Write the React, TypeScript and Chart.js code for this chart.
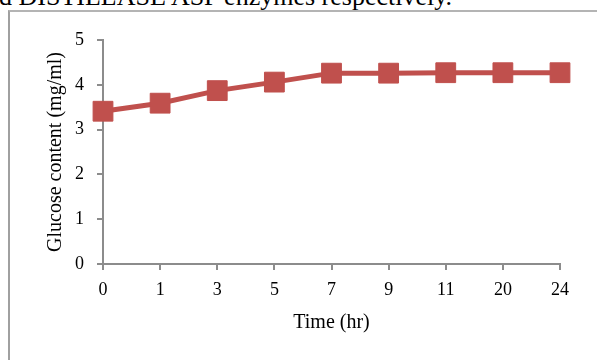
import React, { useEffect, useRef } from "react";
import { Chart, registerables } from "chart.js";

Chart.register(...registerables);

const timeLabels = ["0", "1", "3", "5", "7", "9", "11", "20", "24"];
const glucoseValues = [3.41, 3.59, 3.87, 4.06, 4.26, 4.26, 4.27, 4.27, 4.27];
const yTicks = [0, 1, 2, 3, 4, 5];
const captionText = "d DISTILLASE ASP enzymes respectively.";
const xTitle = "Time (hr)";
const yTitle = "Glucose content (mg/ml)";

const SERIES_COLOR = "#C0504D";
const AXIS_COLOR = "#8c8c8c";
const FONT = "'Liberation Serif', 'Times New Roman', serif";

export default function App() {
  const canvasRef = useRef<HTMLCanvasElement | null>(null);

  useEffect(() => {
    const canvas = canvasRef.current;
    if (!canvas) return;
    const chart = new Chart(canvas, {
      type: "line",
      data: {
        labels: timeLabels,
        datasets: [
          {
            data: glucoseValues,
            borderColor: SERIES_COLOR,
            backgroundColor: SERIES_COLOR,
            borderWidth: 5,
            pointStyle: "rect",
            pointRadius: 14,
            pointBorderWidth: 1,
            pointBorderColor: SERIES_COLOR,
            pointBackgroundColor: SERIES_COLOR,
            tension: 0,
            clip: false as any,
          },
        ],
      },
      options: {
        responsive: false,
        animation: false,
        devicePixelRatio: 1,
        layout: { padding: { top: 40, right: 37, left: 0, bottom: 0 } },
        plugins: {
          legend: { display: false },
          tooltip: { enabled: false },
        },
        scales: {
          x: {
            type: "category",
            offset: false,
            afterFit: (s: any) => {
              s.height = 96;
            },
            grid: {
              display: true,
              drawOnChartArea: false,
              drawTicks: true,
              tickLength: 6,
              color: AXIS_COLOR,
              lineWidth: 2,
            },
            border: { display: true, color: AXIS_COLOR, width: 2 },
            ticks: {
              color: "#000",
              padding: 9,
              maxRotation: 0,
              autoSkip: false,
              font: { family: FONT, size: 18 },
            },
            title: {
              display: true,
              text: xTitle,
              color: "#000",
              font: { family: FONT, size: 20 },
              padding: { top: 0, bottom: 25 },
            },
          },
          y: {
            min: 0,
            max: 5,
            afterFit: (s: any) => {
              s.width = 103;
            },
            afterBuildTicks: (s: any) => {
              s.ticks = yTicks.map((v) => ({ value: v }));
            },
            grid: {
              display: true,
              drawOnChartArea: false,
              drawTicks: true,
              tickLength: 6,
              color: AXIS_COLOR,
              lineWidth: 2,
            },
            border: { display: true, color: AXIS_COLOR, width: 2 },
            ticks: {
              color: "#000",
              padding: 13,
              stepSize: 1,
              font: { family: FONT, size: 18 },
            },
            title: {
              display: true,
              text: yTitle,
              color: "#000",
              font: { family: FONT, size: 20 },
              padding: { top: 44, bottom: 0 },
            },
          },
        },
      },
    });
    return () => chart.destroy();
  }, []);

  return (
    <div
      style={{
        position: "fixed",
        left: 0,
        top: 0,
        width: 597,
        height: 360,
        overflow: "hidden",
        background: "#fff",
        fontFamily: FONT,
      }}
    >
      <div
        style={{
          position: "absolute",
          left: -1,
          top: -16,
          fontSize: 26,
          lineHeight: "26px",
          whiteSpace: "nowrap",
          color: "#000",
        }}
      >
        {captionText}
      </div>
      <div
        style={{
          position: "absolute",
          left: 8,
          top: 10,
          width: 800,
          height: 600,
          borderLeft: "2px solid #a0a0a0",
          borderTop: "2px solid #b4b4b4",
        }}
      />
      <canvas
        ref={canvasRef}
        width={597}
        height={360}
        style={{ position: "absolute", left: 0, top: 0, width: 597, height: 360 }}
      />
    </div>
  );
}
